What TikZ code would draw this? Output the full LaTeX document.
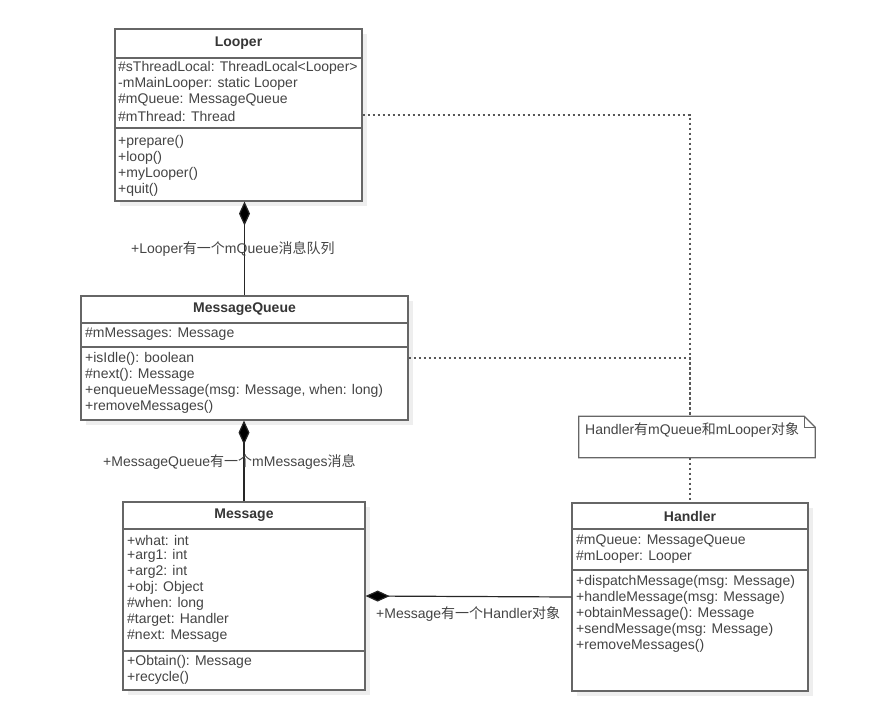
\documentclass[tikz,border=0pt]{standalone}
\usepackage{fontspec}
\setmainfont{Liberation Sans}
\newfontfamily\cjk{Noto Sans CJK SC}
\usetikzlibrary{arrows.meta,shadows,calc}
\definecolor{linec}{HTML}{666666}
\definecolor{textc}{HTML}{444444}
\definecolor{shadowc}{HTML}{EEEEEE}
\tikzset{
  classbox/.style={draw=linec, line width=1.2pt, fill=white, inner sep=0pt,
    drop shadow={shadow xshift=5pt, shadow yshift=-5pt, fill=shadowc, opacity=1}},
  sepline/.style={draw=linec, line width=1.2pt},
  txt/.style={inner sep=0pt, anchor=west, text=textc, font=\fontsize{14}{16}\selectfont},
  ttl/.style={inner sep=0pt, anchor=center, text=textc!80!black, font=\fontsize{14}{16}\selectfont\bfseries},
  comp/.style={draw=black!85, line width=1.2pt, -{Diamond[length=24pt,width=11pt,fill=black]}},
  dep/.style={draw=linec!85!black, line width=1.4pt, dash pattern=on 2.5pt off 2.5pt},
  notebox/.style={inner sep=0pt, minimum width=236pt, minimum height=41pt}
}
\newcommand\crows[4]{\foreach \rowtext [count=\i] in {#4}
  \node[txt, name=#1\i] at (#2, {#3+16*(\i-1)}) {\rowtext};}
\begin{document}
\begin{tikzpicture}[x=1pt,y=-1pt]
\useasboundingbox (0,0) rectangle (883,725);

% ---------- Looper ----------
\node[classbox, minimum width=247pt, minimum height=172pt] (looper) at (238.5,115) {};
\draw[sepline] (looper.west |- 0,58) -- (looper.east |- 0,58);
\draw[sepline] (looper.west |- 0,128) -- (looper.east |- 0,128);
\node[ttl] (looperT) at (238.5,43.5) {Looper};
\crows{lpa}{118}{68}{\#sThreadLocal: ThreadLocal<Looper>, -mMainLooper: static Looper, \#mQueue: MessageQueue, \#mThread: Thread}
\crows{lpm}{118}{142}{+prepare(), +loop(), +myLooper(), +quit()}

% ---------- MessageQueue ----------
\node[classbox, minimum width=327pt, minimum height=124pt] (mq) at (244.5,358) {};
\draw[sepline] (mq.west |- 0,323) -- (mq.east |- 0,323);
\draw[sepline] (mq.west |- 0,347) -- (mq.east |- 0,347);
\node[ttl] (mqT) at (244.5,309.5) {MessageQueue};
\crows{mqa}{85}{334}{\#mMessages: Message}
\crows{mqm}{85}{359}{+isIdle(): boolean, \#next(): Message, {+enqueueMessage(msg: Message, when: long)}, +removeMessages()}

% ---------- Message ----------
\node[classbox, minimum width=242pt, minimum height=188pt] (msg) at (244,596) {};
\draw[sepline] (msg.west |- 0,529) -- (msg.east |- 0,529);
\draw[sepline] (msg.west |- 0,651) -- (msg.east |- 0,651);
\node[ttl] (msgT) at (244,515.5) {Message};
\crows{msa}{127}{540}{+what: int, +arg1: int, +arg2: int, +obj: Object, \#when: long, \#target: Handler, \#next: Message}
\crows{msm}{127}{662}{+Obtain(): Message, +recycle()}

% ---------- Handler ----------
\node[classbox, minimum width=236pt, minimum height=188pt] (handler) at (690,597) {};
\draw[sepline] (handler.west |- 0,529) -- (handler.east |- 0,529);
\draw[sepline] (handler.west |- 0,570) -- (handler.east |- 0,570);
\node[ttl] (handlerT) at (690,516) {Handler};
\crows{hda}{576}{541}{\#mQueue: MessageQueue, \#mLooper: Looper}
\crows{hdm}{576}{582}{+dispatchMessage(msg: Message), +handleMessage(msg: Message), +obtainMessage(): Message, +sendMessage(msg: Message), +removeMessages()}

% ---------- Note ----------
\node[notebox] (note) at (697,437) {};
\draw[sepline, fill=white] (note.north west) -- ($(note.north east)+(-11,0)$) -- ($(note.north east)+(0,11)$)
  -- (note.south east) -- (note.south west) -- cycle;
\draw[sepline] ($(note.north east)+(-11,0)$) -- ($(note.north east)+(-11,11)$) -- ($(note.north east)+(0,11)$);
\node[txt] (noteT) at (585,430) {Handler{\cjk 有}mQueue{\cjk 和}mLooper{\cjk 对象}};

% ---------- Dependencies (dotted) ----------
\coordinate (jn) at (handler.north |- note.north);
\coordinate (jn2) at (handler.north |- note.south);
\draw[dep] (looper.east) -| (jn);
\draw[dep] (mq.east) -| (jn);
\draw[dep] (jn2) -- (handler.north);

% ---------- Compositions ----------
\draw[comp] (mq.north) -- (mq.north |- looper.south);
\draw[comp] (msg.north) -- (msg.north |- mq.south);
\draw[comp] (handler.west) -- (msg.east);

% ---------- Labels ----------
\node[txt] (lbl1) at (131,249) {+Looper{\cjk 有一个}mQueue{\cjk 消息队列}};
\node[txt] (lbl2) at (103,462) {+MessageQueue{\cjk 有一个}mMessages{\cjk 消息}};
\node[txt] (lbl3) at (376,614) {+Message{\cjk 有一个}Handler{\cjk 对象}};
\end{tikzpicture}
\end{document}
